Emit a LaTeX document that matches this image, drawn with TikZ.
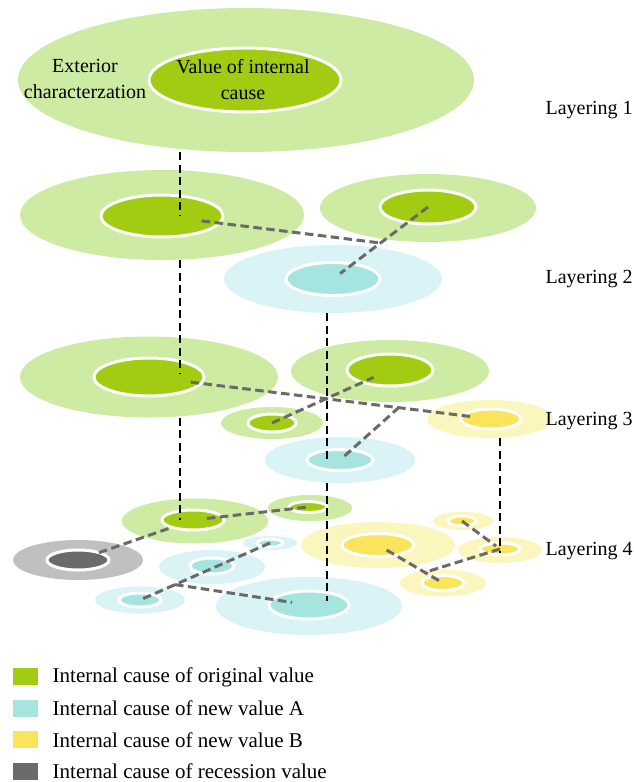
\documentclass[tikz,border=0pt]{standalone}
\usepackage{fontspec}
\setmainfont{Liberation Serif}
\usetikzlibrary{shapes.geometric,calc}
\definecolor{greenout}{HTML}{CDEBA2}
\definecolor{greenin}{HTML}{A2CC12}
\definecolor{cyanout}{HTML}{DAF3F6}
\definecolor{cyanin}{HTML}{A6E4DF}
\definecolor{yellowout}{HTML}{FAF6BE}
\definecolor{yellowin}{HTML}{F9E45C}
\definecolor{grayout}{HTML}{C0C0C0}
\definecolor{grayin}{HTML}{6B6B6B}
\definecolor{linkgray}{HTML}{6A6A6A}

\begin{document}
\begin{tikzpicture}[x=1pt, y=-1pt,
        ring/.style 2 args={ellipse, inner sep=0pt, minimum width=#1pt, minimum height=#2pt},
        outer/.style={fill=#1},
        core/.style={fill=#1, draw=white, line width=3pt},
        vlink/.style={black, line width=2.3pt, dash pattern=on 8pt off 4.5pt},
        glink/.style={linkgray, line width=3pt, dash pattern=on 8.5pt off 4.5pt},
        layer/.style={anchor=west, font=\fontsize{20}{24}\selectfont},
        legtext/.style={anchor=west, font=\fontsize{21}{25}\selectfont}]
        \useasboundingbox (0,0) rectangle (633,782);
        % Outer rings
        \node[ring={456}{144}, outer=greenout] (top) at (246,80) {};
        \node[ring={218}{68}, outer=cyanout] (c2) at (333,279) {};
        \node[ring={284}{90}, outer=greenout] (g2a) at (162,215) {};
        \node[ring={216}{68}, outer=greenout] (g2b) at (428,208) {};
        \node[ring={258}{81}, outer=greenout] (g3a) at (149,377) {};
        \node[ring={198}{62}, outer=greenout] (g3b) at (390,371) {};
        \node[ring={102}{32}, outer=greenout] (g3c) at (272,423) {};
        \node[ring={150}{46}, outer=cyanout] (c3) at (340,460) {};
        \node[ring={126}{38}, outer=yellowout] (y3) at (490,419) {};
        \node[ring={146}{45}, outer=greenout] (g4a) at (195,521) {};
        \node[ring={84}{26}, outer=greenout] (g4b) at (310,508) {};
        \node[ring={130}{40}, outer=grayout] (k4) at (78,560) {};
        \node[ring={54}{14}, outer=cyanout] (c4a) at (270,543) {};
        \node[ring={106}{34}, outer=cyanout] (c4b) at (212,567) {};
        \node[ring={90}{27}, outer=cyanout] (c4c) at (140,600) {};
        \node[ring={186}{58}, outer=cyanout] (c4d) at (309,606) {};
        \node[ring={154}{46}, outer=yellowout] (y4a) at (378,545) {};
        \node[ring={60}{18}, outer=yellowout] (y4b) at (463,521) {};
        \node[ring={84}{26}, outer=yellowout] (y4c) at (500,550) {};
        \node[ring={86}{27}, outer=yellowout] (y4d) at (443,583) {};
        % Inner cores
        \node[ring={192}{64}, core=greenin] (topc) at (245,80) {};
        \node[ring={122}{42}, core=greenin] (g2ac) at (162,216) {};
        \node[ring={96}{34}, core=greenin] (g2bc) at (428,207) {};
        \node[ring={94}{33}, core=cyanin] (c2c) at (333,279) {};
        \node[ring={110}{38}, core=greenin] (g3ac) at (149,377) {};
        \node[ring={86}{32}, core=greenin] (g3bc) at (390,370) {};
        \node[ring={48}{18}, core=greenin] (g3cc) at (272,423) {};
        \node[ring={66}{21}, core=cyanin] (c3c) at (340,460) {};
        \node[ring={60}{20}, core=yellowin] (y3c) at (491,419) {};
        \node[ring={62}{20}, core=greenin] (g4ac) at (193,520) {};
        \node[ring={38}{11}, core=greenin] (g4bc) at (308,507) {};
        \node[ring={62}{20}, core=grayin] (k4c) at (78,560) {};
        \node[ring={26}{8}, core=cyanin] (c4ac) at (270,543) {};
        \node[ring={44}{16}, core=cyanin] (c4bc) at (212,566) {};
        \node[ring={42}{14}, core=cyanin] (c4cc) at (140,600) {};
        \node[ring={80}{28}, core=cyanin] (c4dc) at (309,605) {};
        \node[ring={72}{23}, core=yellowin] (y4ac) at (378,545) {};
        \node[ring={28}{10}, core=yellowin] (y4bc) at (462,521) {};
        \node[ring={40}{12}, core=yellowin] (y4cc) at (500,549) {};
        \node[ring={42}{15}, core=yellowin] (y4dc) at (443,583) {};
        % Texts of the top ring
        \node[align=center, font=\fontsize{20}{26}\selectfont] (ext) at (85,79) {Exterior\\characterzation};
        \node[align=center, font=\fontsize{20}{26}\selectfont] (val) at (243,80) {Value of internal\\cause};
        % Vertical links
        \coordinate (xa) at (180,0);
        \coordinate (xb) at (327,0);
        \coordinate (xc) at (500,0);
        \draw[vlink] (top.south -| xa) -- (g2ac.center -| xa);
        \draw[vlink] (g2a.south -| xa) -- ([yshift=4pt]g3ac.center -| xa);
        \draw[vlink] (g3a.south -| xa) -- (g4ac.center -| xa);
        \draw[vlink] (c2.south -| xb) -- ([yshift=-3pt]c3c.center -| xb);
        \draw[vlink] (c3.south -| xb) -- ([yshift=4pt]c4dc.center -| xb);
        \draw[vlink] (y3.south -| xc) -- ([yshift=-4pt]y4cc.center -| xc);
        % Links of layering 2
        \coordinate (j2) at ($(g2bc.center)!0.5!(c2c.center)$);
        \draw[glink, shorten <=40pt] (g2ac.center) -- (j2);
        \draw[glink, shorten >=9pt] (g2bc.center) -- (c2c.center);
        % Links of layering 3
        \coordinate (j3) at ($(g3ac.center)!0.73!(y3c.center)$);
        \draw[glink, shorten <=42pt, shorten >=18pt] (g3ac.center) -- (y3c.center);
        \draw[glink, shorten >=18pt] (g3cc.center) -- (g3bc.center);
        \draw[glink, shorten <=6pt] (c3c.center) -- (j3);
        % Links of layering 4
        \coordinate (j4a) at ($(c4ac.center)!0.73!(c4cc.center)$);
        \coordinate (j4b) at ($(y4ac.center)!0.72!(y4dc.center)$);
        \draw[glink, shorten <=14pt] (g4ac.center) -- (g4bc.center);
        \draw[glink, shorten <=26pt, shorten >=20pt] (g4ac.center) -- (k4c.center);
        \draw[glink] (c4ac.center) -- (c4cc.center);
        \draw[glink, shorten >=17pt] (j4a) -- (c4dc.center);
        \draw[glink, shorten <=10pt, shorten >=2pt] (y4ac.center) -- (y4dc.center);
        \draw[glink, shorten >=5pt] (y4bc.center) -- (y4cc.center);
        \draw[glink] (y4cc.center) -- (j4b);
        % Layer labels
        \node[layer] (lay1) at (542,110) {Layering 1};
        \node[layer] (lay2) at (542,279) {Layering 2};
        \node[layer] (lay3) at (542,421) {Layering 3};
        \node[layer] (lay4) at (542,551) {Layering 4};
        % Legend
        \foreach \i/\col/\txt in {1/greenin/Internal cause of original value,
                                 2/cyanin/Internal cause of new value A,
                                 3/yellowin/Internal cause of new value B,
                                 4/grayin/Internal cause of recession value} {
            \node[fill=\col, minimum width=25pt, minimum height=17pt, inner sep=0pt] (key\i) at (25.5,{645.5+31.4*\i}) {};
            \node[legtext] (lbl\i) at ([xshift=11pt]key\i.east) {\txt};
        }
    \end{tikzpicture}
\end{document}
